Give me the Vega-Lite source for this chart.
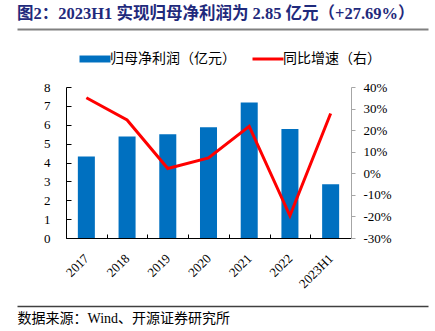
{
  "$schema": "https://vega.github.io/schema/vega-lite/v6.json",
  "width": 285,
  "height": 151,
  "padding": {"left": 17, "top": 5, "right": 7, "bottom": 5},
  "background": "#ffffff",
  "config": {"view": {"stroke": null}},
  "title": {
    "text": "图2：2023H1 实现归母净利润为 2.85 亿元（+27.69%）",
    "anchor": "start",
    "frame": "bounds",
    "font": "Liberation Serif, Noto Sans CJK SC",
    "fontSize": 16.5,
    "fontWeight": "bold",
    "color": "#1F2A7C",
    "offset": 7
  },
  "data": {
    "values": [
      {"year": "2017", "profit": 4.32, "growth": 0.35},
      {"year": "2018", "profit": 5.38, "growth": 0.247},
      {"year": "2019", "profit": 5.5, "growth": 0.022},
      {"year": "2020", "profit": 5.87, "growth": 0.071},
      {"year": "2021", "profit": 7.18, "growth": 0.218},
      {"year": "2022", "profit": 5.77, "growth": -0.197},
      {"year": "2023H1", "profit": 2.85, "growth": 0.2769}
    ]
  },
  "layer": [
    {
      "layer": [
        {
          "mark": {"type": "bar"},
          "encoding": {
            "x": {
              "field": "year",
              "type": "ordinal",
              "sort": null,
              "scale": {"paddingInner": 0.582, "paddingOuter": 0.291},
              "axis": {
                "orient": "bottom",
                "title": null,
                "labelAngle": -45,
                "labelAlign": "right",
                "labelBaseline": "middle",
                "labelFont": "Liberation Serif",
                "labelFontSize": 13,
                "labelColor": "#000000",
                "tickOffset": -20.357,
                "labelOffset": 20.357,
                "tickSize": -4,
                "tickColor": "#000000",
                "domainColor": "#000000",
                "labelPadding": 22,
                "grid": false
              }
            },
            "y": {
              "field": "profit",
              "type": "quantitative",
              "scale": {"domain": [0, 8]},
              "axis": {
                "orient": "left",
                "title": null,
                "values": [0, 1, 2, 3, 4, 5, 6, 7, 8],
                "grid": false,
                "tickSize": -5,
                "labelPadding": 21,
                "tickColor": "#000000",
                "domainColor": "#000000",
                "labelFont": "Liberation Serif",
                "labelFontSize": 13,
                "labelColor": "#000000"
              }
            },
            "color": {
              "datum": "归母净利润（亿元）",
              "scale": {
                "domain": ["归母净利润（亿元）", "同比增速（右）"],
                "range": ["#0070C0", "#FF0000"]
              },
              "legend": {
                "orient": "none",
                "legendX": 22,
                "legendY": -35,
                "direction": "horizontal",
                "title": null,
                "padding": 0,
                "labelFont": "Noto Sans CJK SC",
                "labelFontSize": 14,
                "labelColor": "#000000",
                "symbolSize": 961,
                "columnPadding": 10,
                "labelOffset": 8,
                "encode": {
                  "symbols": {
                    "update": {
                      "shape": {"signal": "datum.value === '同比增速（右）' ? 'stroke' : 'M-1,-0.225H1V0.225H-1Z'"},
                      "fill": {"signal": "datum.value === '同比增速（右）' ? 'transparent' : '#0070C0'"},
                      "stroke": {"signal": "datum.value === '同比增速（右）' ? '#FF0000' : 'transparent'"},
                      "strokeWidth": {"signal": "datum.value === '同比增速（右）' ? 3 : 0"},
                      "opacity": {"value": 1}
                    }
                  }
                }
              }
            }
          }
        },
        {
          "mark": {"type": "line", "strokeWidth": 3},
          "encoding": {
            "x": {"field": "year", "type": "ordinal", "sort": null},
            "y": {
              "field": "growth",
              "type": "quantitative",
              "scale": {"domain": [-0.3, 0.4]},
              "axis": {
                "orient": "right",
                "title": null,
                "values": [-0.3, -0.2, -0.1, 0, 0.1, 0.2, 0.3, 0.4],
                "labelExpr": "round(datum.value * 100) + '%'",
                "grid": false,
                "tickSize": 4,
                "labelPadding": 8,
                "tickColor": "#A6A6A6",
                "domainColor": "#A6A6A6",
                "labelFont": "Liberation Serif",
                "labelFontSize": 13,
                "labelColor": "#000000"
              }
            },
            "color": {"datum": "同比增速（右）"}
          }
        }
      ],
      "resolve": {"scale": {"y": "independent"}}
    },
    {
      "mark": {"type": "point", "opacity": 0, "size": 0},
      "encoding": {
        "x": {
          "field": "year",
          "type": "ordinal",
          "sort": null,
          "scale": {"type": "point", "range": [-49, 362], "padding": 0},
          "axis": {
            "orient": "top",
            "offset": 58,
            "labels": false,
            "ticks": false,
            "grid": false,
            "title": null,
            "domainColor": "#808080",
            "domainWidth": 2
          }
        }
      }
    },
    {
      "mark": {"type": "point", "opacity": 0, "size": 0},
      "encoding": {
        "x": {
          "field": "year",
          "type": "ordinal",
          "sort": null,
          "scale": {"type": "point", "range": [-49, 362], "padding": 0},
          "axis": {
            "orient": "bottom",
            "offset": 68,
            "labels": false,
            "ticks": false,
            "grid": false,
            "domainColor": "#404040",
            "domainWidth": 1.5,
            "title": "数据来源：Wind、开源证券研究所",
            "titleAnchor": "start",
            "titleAlign": "left",
            "titleFont": "Liberation Serif, Noto Sans CJK SC",
            "titleFontSize": 14,
            "titleFontWeight": "normal",
            "titleColor": "#000000",
            "titlePadding": 5
          }
        }
      }
    }
  ],
  "resolve": {"scale": {"x": "independent", "y": "independent"}}
}
